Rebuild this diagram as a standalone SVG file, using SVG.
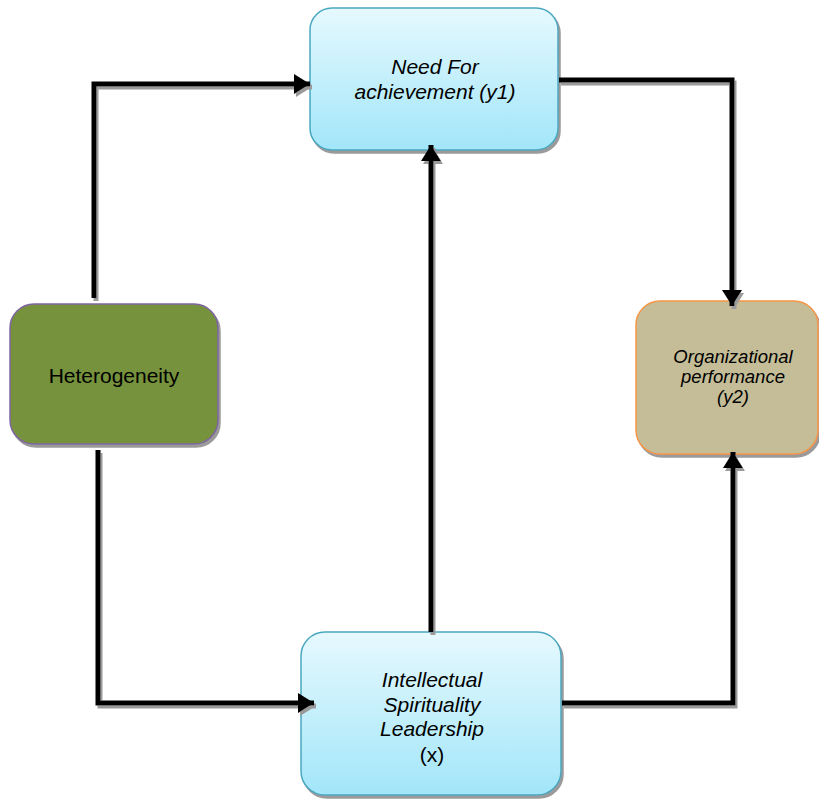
<svg xmlns="http://www.w3.org/2000/svg" width="819" height="802" viewBox="0 0 819 802">
<defs>
<linearGradient id="blue" x1="0" y1="0" x2="0" y2="1">
<stop offset="0" stop-color="#e6f9fe"/>
<stop offset="1" stop-color="#a2e6f9"/>
</linearGradient>
<filter id="sh" x="-10%" y="-10%" width="130%" height="130%">
<feOffset in="SourceAlpha" dx="2" dy="3" result="o"/>
<feFlood flood-color="#9a9a9a"/>
<feComposite in2="o" operator="in" result="s"/>
<feMerge><feMergeNode in="s"/><feMergeNode in="SourceGraphic"/></feMerge>
</filter>
<marker id="arr" markerWidth="4" markerHeight="4" refX="3.2" refY="2" orient="auto" markerUnits="strokeWidth">
<path d="M0,0 L3.2,2 L0,4 Z" fill="#000"/>
</marker>
</defs>
<style>
text{font-family:"Liberation Sans",Arial,sans-serif;fill:#000;text-anchor:middle}
.it{font-style:italic}
.con{fill:none;stroke:#000;stroke-width:5;stroke-linejoin:miter}
</style>
<g id="need">
<rect x="310" y="8" width="248" height="142" rx="22" fill="url(#blue)" stroke="#4aa8c0" stroke-width="1.5" filter="url(#sh)"/>
<text class="it" x="435" y="74" font-size="21">Need For</text>
<text class="it" x="435" y="99" font-size="21">achievement (y1)</text>
</g>
<g id="hetero">
<rect x="10" y="304" width="208" height="140" rx="24" fill="#76923c" stroke="#8064a2" stroke-width="1.5" filter="url(#sh)"/>
<text x="114" y="383" font-size="21">Heterogeneity</text>
</g>
<g id="org">
<rect x="636" y="301" width="182" height="153" rx="24" fill="#c4bd97" stroke="#f79646" stroke-width="1.5" filter="url(#sh)"/>
<text class="it" x="733" y="363" font-size="18.5">Organizational</text>
<text class="it" x="733" y="383" font-size="18.5">performance</text>
<text class="it" x="733" y="403" font-size="18.5">(y2)</text>
</g>
<g id="isl">
<rect x="301" y="632" width="260" height="163" rx="24" fill="url(#blue)" stroke="#4aa8c0" stroke-width="1.5" filter="url(#sh)"/>
<text class="it" x="432" y="687" font-size="21">Intellectual</text>
<text class="it" x="432" y="712" font-size="21">Spirituality</text>
<text class="it" x="432" y="736" font-size="21">Leadership</text>
<text x="432" y="762" font-size="21">(x)</text>
</g>
<g id="connectors" filter="url(#sh)">
<path class="con" d="M94,298 V84 H310" marker-end="url(#arr)"/>
<path class="con" d="M98,450 V703 H314" marker-end="url(#arr)"/>
<path class="con" d="M431,632 V145" marker-end="url(#arr)"/>
<path class="con" d="M559,80 H732 V306" marker-end="url(#arr)"/>
<path class="con" d="M562,703 H733 V452" marker-end="url(#arr)"/>
</g>
</svg>
